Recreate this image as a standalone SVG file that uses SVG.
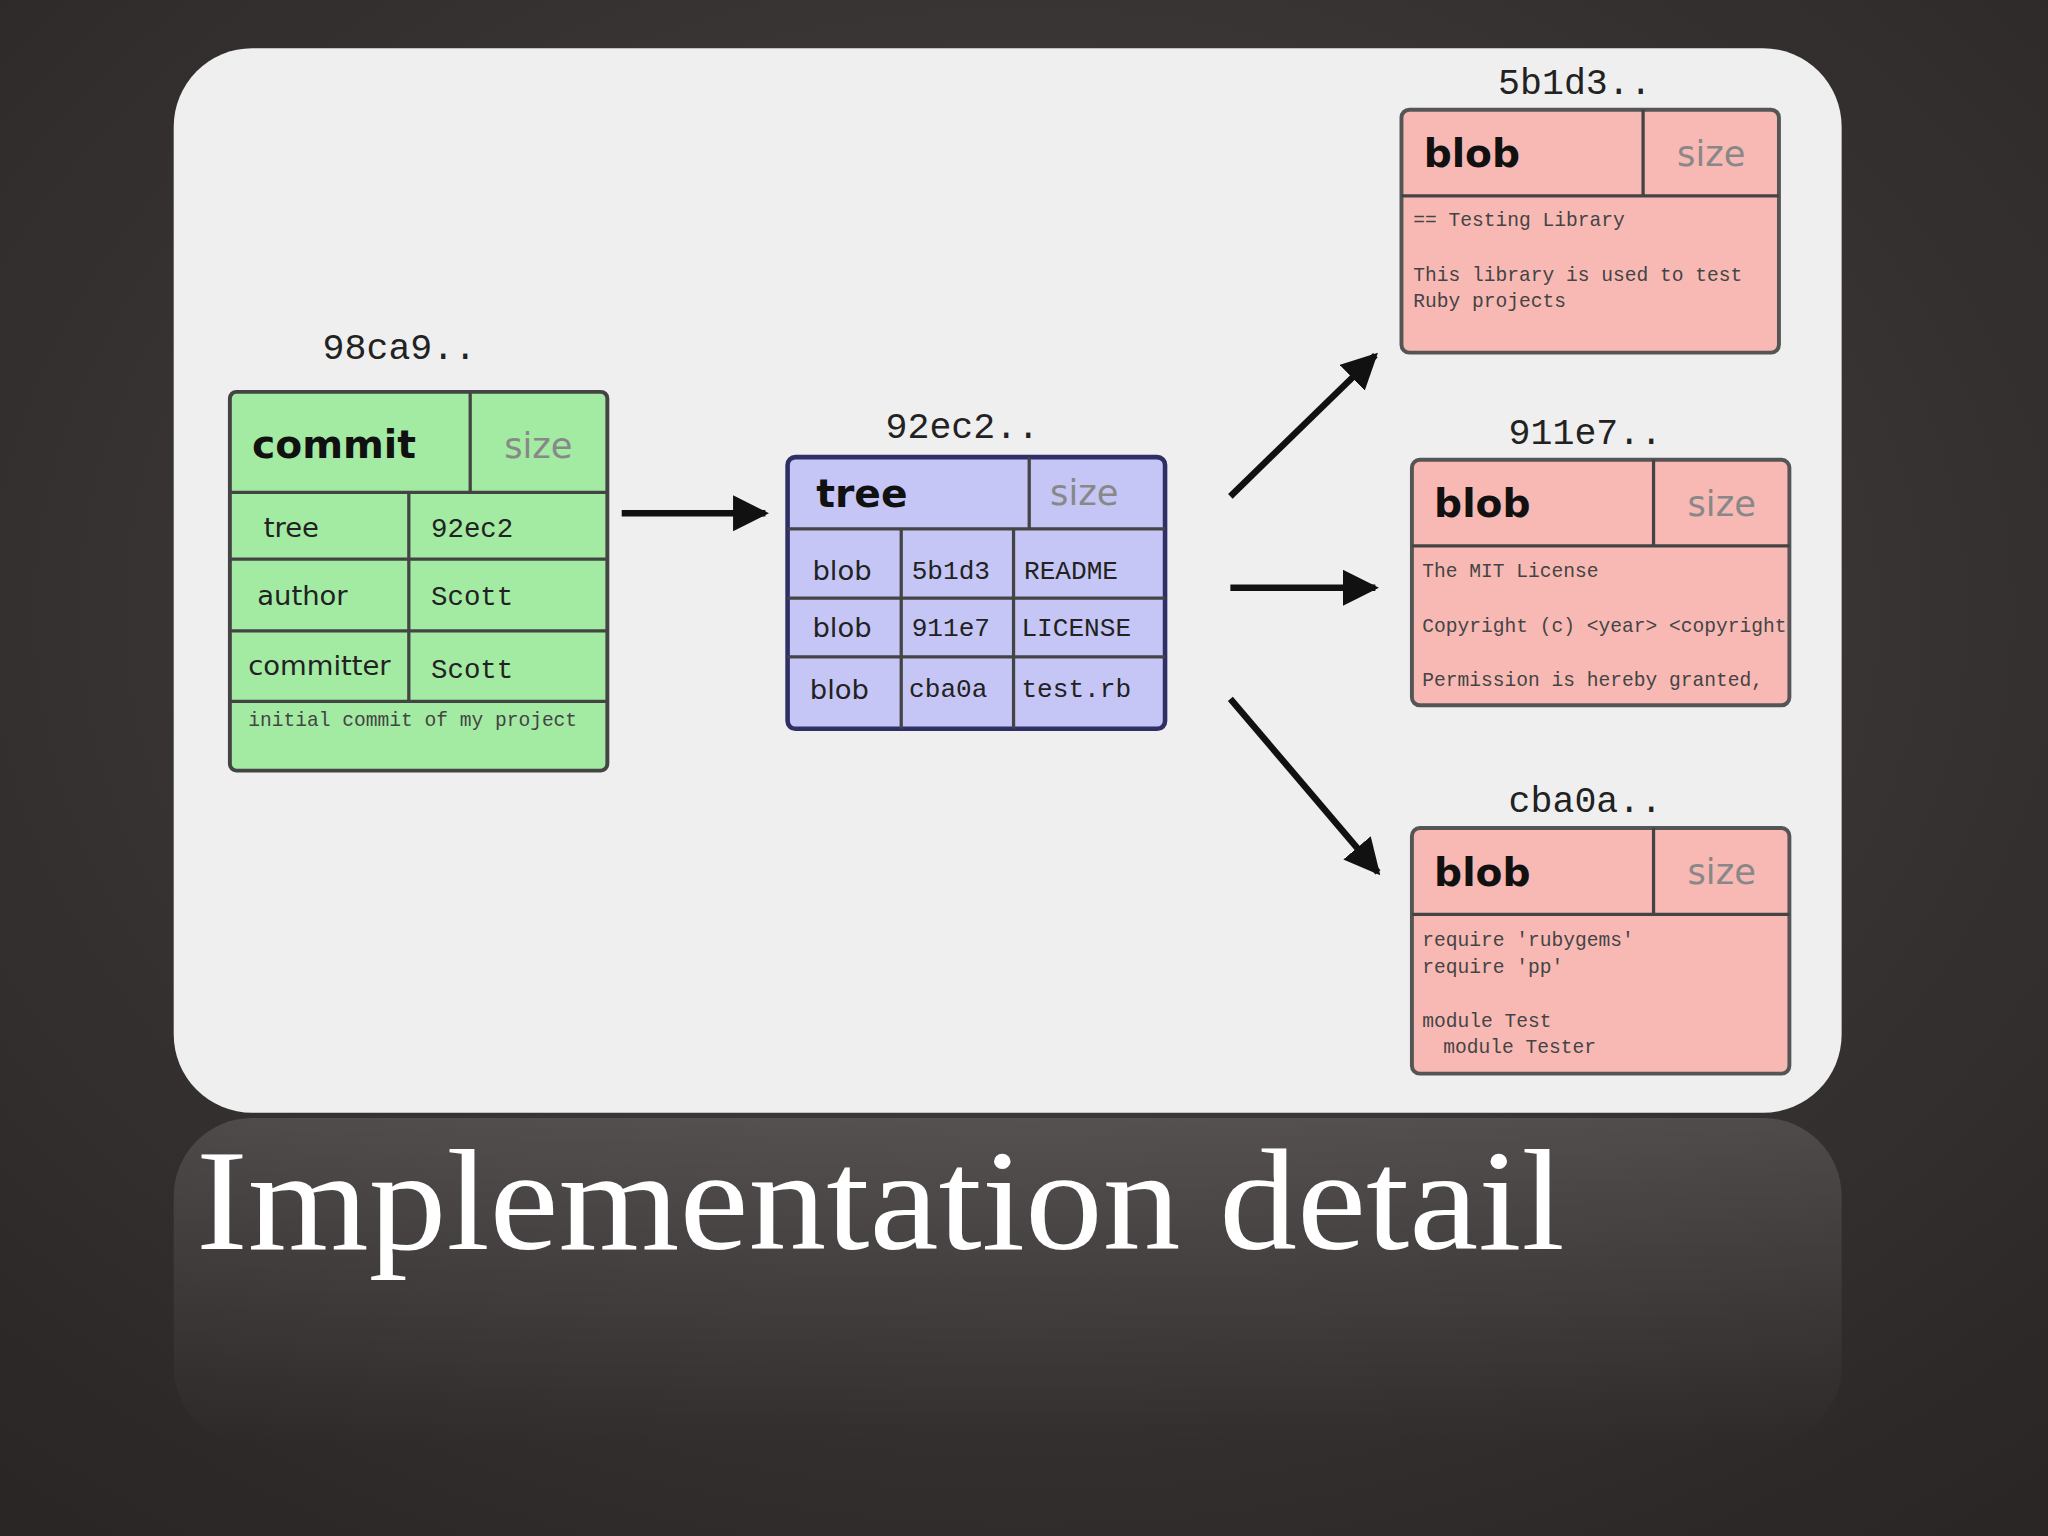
<svg xmlns="http://www.w3.org/2000/svg" width="2048" height="1536" viewBox="0 0 2048 1536">
<defs>
<radialGradient id="bg" cx="50%" cy="40%" r="75%"><stop offset="0" stop-color="#4a4444"/><stop offset="1" stop-color="#2a2626"/></radialGradient>
<linearGradient id="refl" x1="0" y1="0" x2="0" y2="1"><stop offset="0" stop-color="#fff" stop-opacity="0.13"/><stop offset="1" stop-color="#fff" stop-opacity="0"/></linearGradient>
<marker id="ah" viewBox="0 0 10 10" refX="9" refY="5" markerWidth="5.5" markerHeight="5.5" orient="auto"><path d="M0,0 L10,5 L0,10 z" fill="#111"/></marker>
<style>
.mono{font-family:"Liberation Mono","DejaVu Sans Mono",monospace;fill:#222}
.sans{font-family:"DejaVu Sans","Liberation Sans",sans-serif;fill:#222}
.hdr{font-family:"DejaVu Sans","Liberation Sans",sans-serif;font-weight:bold;font-size:30px;fill:#111}
.sz{font-family:"DejaVu Sans","Liberation Sans",sans-serif;font-size:27px;fill:#888}
.small{font-family:"Liberation Mono",monospace;font-size:15px;fill:#444}
.g{fill:#a3eba3;stroke:#444;stroke-width:3}
.t{fill:#c6c6f6;stroke:#2f2f66;stroke-width:3.5}
.b{fill:#f8b9b5;stroke:#555;stroke-width:3}
.ln{stroke:#444;stroke-width:2.5;fill:none}
.arr{stroke:#111;stroke-width:5;fill:none;marker-end:url(#ah)}
</style>
</defs>
<rect width="2048" height="1536" fill="url(#bg)"/>
<g transform="scale(1.30612)">
<rect x="133" y="37" width="1277" height="815" rx="60" fill="#f0eff0"/>
<rect x="133" y="856" width="1277" height="250" rx="60" fill="url(#refl)"/>
<g id="commit">
<text class="mono" x="247" y="275" font-size="28">98ca9..</text>
<rect class="g" x="176" y="300" width="289" height="290" rx="5"/>
<path class="ln" d="M176,377H465M176,428H465M176,483H465M176,537H465M360,300V377M313,377V537"/>
<text class="hdr" x="193" y="351">commit</text><text class="sz" x="386" y="351">size</text>
<text class="sans" x="202" y="411" font-size="21">tree</text><text class="mono" x="330" y="411" font-size="21">92ec2</text>
<text class="sans" x="197" y="463" font-size="21">author</text><text class="mono" x="330" y="463" font-size="21">Scott</text>
<text class="sans" x="190" y="517" font-size="21">committer</text><text class="mono" x="330" y="519" font-size="21">Scott</text>
<text class="small" x="190" y="556">initial commit of my project</text>
</g>
<g id="tree">
<text class="mono" x="678" y="335" font-size="28">92ec2..</text>
<rect class="t" x="603" y="350" width="289" height="208" rx="6"/>
<path class="ln" d="M603,405H892M603,458H892M603,503H892M788,350V405M690,405V558M776,405V558" stroke="#2f2f66"/>
<text class="hdr" x="625" y="388">tree</text><text class="sz" x="804" y="387">size</text>
<text class="sans" x="622" y="444" font-size="21">blob</text><text class="mono" x="698" y="443" font-size="20">5b1d3</text><text class="mono" x="784" y="443" font-size="20">README</text>
<text class="sans" x="622" y="488" font-size="21">blob</text><text class="mono" x="698" y="487" font-size="20">911e7</text><text class="mono" x="782" y="487" font-size="20">LICENSE</text>
<text class="sans" x="620" y="535" font-size="21">blob</text><text class="mono" x="696" y="534" font-size="20">cba0a</text><text class="mono" x="782" y="534" font-size="20">test.rb</text>
</g>
<g id="blob1">
<text class="mono" x="1147" y="72" font-size="28">5b1d3..</text>
<rect class="b" x="1073" y="84" width="289" height="186" rx="6"/>
<path class="ln" d="M1073,150H1362M1258,84V150"/>
<text class="hdr" x="1090" y="128">blob</text><text class="sz" x="1284" y="127">size</text>
<text class="small" x="1082" y="173">== Testing Library</text>
<text class="small" x="1082" y="215">This library is used to test</text>
<text class="small" x="1082" y="235">Ruby projects</text>
</g>
<g id="blob2">
<text class="mono" x="1155" y="340" font-size="28">911e7..</text>
<rect class="b" x="1081" y="352" width="289" height="188" rx="6"/>
<path class="ln" d="M1081,418H1370M1266,352V418"/>
<text class="hdr" x="1098" y="396">blob</text><text class="sz" x="1292" y="395">size</text>
<text class="small" x="1089" y="442">The MIT License</text>
<text class="small" x="1089" y="484">Copyright (c) &lt;year&gt; &lt;copyright</text>
<text class="small" x="1089" y="525">Permission is hereby granted,</text>
</g>
<g id="blob3">
<text class="mono" x="1155" y="622" font-size="28">cba0a..</text>
<rect class="b" x="1081" y="634" width="289" height="188" rx="6"/>
<path class="ln" d="M1081,700H1370M1266,634V700"/>
<text class="hdr" x="1098" y="678">blob</text><text class="sz" x="1292" y="677">size</text>
<text class="small" x="1089" y="724">require 'rubygems'</text>
<text class="small" x="1089" y="745">require 'pp'</text>
<text class="small" x="1089" y="786">module Test</text>
<text class="small" x="1105" y="806">module Tester</text>
</g>
<g id="connectors">
<path class="arr" d="M476,393H586"/>
<path class="arr" d="M942,380L1053,272"/>
<path class="arr" d="M942,450H1053"/>
<path class="arr" d="M942,535L1055,668"/>
</g>
<text x="150" y="956" font-family="Liberation Serif,serif" font-size="110" textLength="1048" lengthAdjust="spacingAndGlyphs" fill="#fff">Implementation detail</text>
</g>
</svg>
